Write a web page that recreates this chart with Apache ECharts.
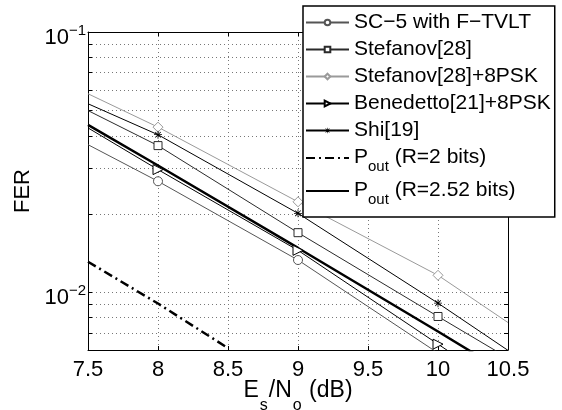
<!DOCTYPE html>
<html>
<head>
<meta charset="utf-8">
<script src="https://cdn.jsdelivr.net/npm/echarts@6/dist/echarts.min.js"></script>
<style>
html,body{margin:0;padding:0;background:#fff;}
#chart{width:562px;height:410px;}
</style>
</head>
<body>
<div id="chart"></div>
<script>
// ---- data ----
var xValues = [7.5, 8, 9, 10, 10.5];
var sc5      = [0.0369, 0.0267, 0.0133, 0.00584, 0.00386];
var stef     = [0.0499, 0.0366, 0.01694, 0.00807, 0.00559];
var stef8psk = [0.0579, 0.0431, 0.02226, 0.01162, 0.00765];
var bene     = [0.0428, 0.0296, 0.01449, 0.00632, 0.00418];
var shi      = [0.0530, 0.0403, 0.0201, 0.00908, 0.00598];
var pout252  = [0.0440, 0.0307, 0.0148, 0.00707, 0.00485];
var pout2X   = [7.5, 8, 8.5];
var pout2    = [0.0131, 0.00905, 0.0061];
var markerX  = [8, 9, 10];

var seriesNames = ['SC\u22125 with F\u2212TVLT', 'Stefanov[28]', 'Stefanov[28]+8PSK',
  'Benedetto[21]+8PSK', 'Shi[19]', 'P_out (R=2 bits)', 'P_out (R=2.52 bits)'];

var xTicks = [7.5, 8, 8.5, 9, 9.5, 10, 10.5];
var yMajorTicks = [0.01, 0.1];
var yMajorLabels = ['{b|10}{sup|\u22122}', '{b|10}{sup|\u22121}'];
var yMinorTicks = [0.007, 0.008, 0.009, 0.02, 0.03, 0.04, 0.05, 0.06, 0.07, 0.08, 0.09];

var X_MIN = 7.5, X_MAX = 10.5, Y_MIN = 0.006, Y_MAX = 0.1;
var FONT = 'Liberation Sans, Arial, Helvetica, sans-serif';

var starPath = 'path://M4.5,0L5.5,0L5.5,10L4.5,10Z M0,4.5L10,4.5L10,5.5L0,5.5Z ' +
  'M1.15,1.85L1.85,1.15L8.85,8.15L8.15,8.85Z M8.15,1.15L8.85,1.85L1.85,8.85L1.15,8.15Z';

function buildData(xs, ys, withMarkers) {
  return xs.map(function (x, i) {
    var show = withMarkers && markerX.indexOf(x) >= 0 && ys[i] >= Y_MIN;
    var item = { value: [x, ys[i]] };
    if (!show) item.symbol = 'none';
    return item;
  });
}

function markerSeries(name, ys, color, symbol, size, rotate, filled) {
  return {
    name: name, type: 'line', data: buildData(xValues, ys, true),
    symbol: symbol, symbolSize: size, symbolRotate: rotate || 0,
    showAllSymbol: true, clip: true, z: 3,
    lineStyle: { color: color, width: 1 },
    itemStyle: filled ? { color: color, borderWidth: 0 }
                      : { color: '#fff', borderColor: color, borderWidth: 1 },
    emphasis: { disabled: true }, animation: false
  };
}

var chart = echarts.init(document.getElementById('chart'), null, { renderer: 'canvas' });

var legendData = seriesNames.map(function (n) {
  if (n.indexOf('P_out') === 0) return { name: n, itemStyle: { opacity: 0 } };
  return { name: n };
});

var option = {
  animation: false,
  backgroundColor: '#fff',
  textStyle: { fontFamily: FONT },
  grid: { left: 88, right: 54, top: 32, bottom: 60, show: false,
          containLabel: false, outerBoundsMode: 'none' },
  xAxis: [{
    type: 'value', min: X_MIN, max: X_MAX, interval: 0.5, position: 'bottom',
    name: '{n|E}{sub|s}{n|/N}{sub|o}{n| (dB)}', nameLocation: 'middle', nameGap: 29,
    nameMoveOverlap: false,
    nameTextStyle: {
      color: '#000', fontFamily: FONT,
      rich: {
        n: { fontSize: 23, lineHeight: 26, verticalAlign: 'top', color: '#000', fontFamily: FONT },
        sub: { fontSize: 16, lineHeight: 16, verticalAlign: 'top', padding: [19, 1, 0, 1], color: '#000', fontFamily: FONT }
      }
    },
    axisLine: { show: true, onZero: false, lineStyle: { color: '#000', width: 1 } },
    axisTick: { show: true, inside: true, length: 4, lineStyle: { color: '#000' } },
    axisLabel: { color: '#000', fontSize: 22, fontFamily: FONT, margin: 9,
      formatter: function (v) { return xTicks.indexOf(v) >= 0 ? String(v) : ''; } },
    splitLine: { show: true, lineStyle: { color: '#777', type: [1, 3], width: 1 } }
  }, {
    type: 'value', min: X_MIN, max: X_MAX, interval: 0.5, position: 'top',
    axisLine: { show: true, onZero: false, lineStyle: { color: '#000', width: 1 } },
    axisTick: { show: true, inside: true, length: 4, lineStyle: { color: '#000' } },
    axisLabel: { show: false }, splitLine: { show: false }
  }],
  yAxis: [{
    type: 'log', logBase: 10, min: Y_MIN, max: Y_MAX, position: 'left',
    name: 'FER', nameLocation: 'middle', nameGap: 50, nameRotate: 90,
    nameTextStyle: { color: '#000', fontSize: 22, fontFamily: FONT },
    axisLine: { show: true, onZero: false, lineStyle: { color: '#000', width: 1 } },
    axisTick: { show: true, inside: true, length: 4, lineStyle: { color: '#000' } },
    axisLabel: {
      color: '#000', fontFamily: FONT, margin: 2,
      formatter: function (v) {
        for (var i = 0; i < yMajorTicks.length; i++) {
          if (Math.abs(v - yMajorTicks[i]) / yMajorTicks[i] < 1e-6) return yMajorLabels[i];
        }
        return '';
      },
      rich: {
        b: { fontSize: 22, lineHeight: 26, verticalAlign: 'top', padding: [8, 0, 0, 0], color: '#000', fontFamily: FONT },
        sup: { fontSize: 15, lineHeight: 16, verticalAlign: 'top', padding: [4, 0, 0, 0], color: '#000', fontFamily: FONT }
      }
    },
    splitLine: { show: true, lineStyle: { color: '#777', type: [1, 3], width: 1 } }
  }, {
    type: 'log', logBase: 10, min: Y_MIN, max: Y_MAX, position: 'right',
    axisLine: { show: true, onZero: false, lineStyle: { color: '#000', width: 1 } },
    axisTick: { show: true, inside: true, length: 4, lineStyle: { color: '#000' } },
    axisLabel: { show: false }, splitLine: { show: false }
  }],
  legend: {
    orient: 'vertical', left: 303, top: 6,
    data: legendData,
    padding: [6, 4, 10, 2],
    itemGap: 6, itemWidth: 43, itemHeight: 7,
    backgroundColor: '#fff', borderColor: '#000', borderWidth: 1.5,
    selectedMode: false,
    textStyle: {
      fontSize: 21, color: '#000', fontFamily: FONT,
      rich: {
        n: { fontSize: 21, lineHeight: 22, verticalAlign: 'top', color: '#000', fontFamily: FONT },
        sub: { fontSize: 15, lineHeight: 16, verticalAlign: 'top', padding: [12, 0, 0, 0], color: '#000', fontFamily: FONT }
      }
    },
    formatter: function (name) {
      if (name.indexOf('P_out') === 0) {
        return '{n|P}{sub|out}{n|' + name.slice(5) + '}';
      }
      return name;
    }
  },
  series: [
    {
      type: 'custom', name: 'minorGrid', coordinateSystem: 'cartesian2d', silent: true, z: 1,
      data: yMinorTicks.map(function (v) { return [X_MIN, v]; }),
      renderItem: function (params, api) {
        var v = api.value(1);
        var p0 = api.coord([X_MIN, v]);
        var p1 = api.coord([X_MAX, v]);
        var y = Math.round(p0[1]) + 0.5;
        return {
          type: 'group',
          children: [
            { type: 'line', shape: { x1: p0[0], y1: y, x2: p1[0], y2: y },
              style: { stroke: '#777', lineWidth: 1, lineDash: [1, 3] } },
            { type: 'line', shape: { x1: p0[0], y1: y, x2: p0[0] + 4, y2: y },
              style: { stroke: '#000', lineWidth: 1 } },
            { type: 'line', shape: { x1: p1[0] - 4, y1: y, x2: p1[0], y2: y },
              style: { stroke: '#000', lineWidth: 1 } }
          ]
        };
      },
      animation: false
    },
    markerSeries(seriesNames[0], sc5, '#555', 'circle', 9),
    markerSeries(seriesNames[1], stef, '#2a2a2a', 'rect', 8),
    markerSeries(seriesNames[2], stef8psk, '#9a9a9a', 'diamond', 10),
    markerSeries(seriesNames[3], bene, '#000', 'triangle', 10, -90),
    markerSeries(seriesNames[4], shi, '#000', starPath, 8, 0, true),
    {
      name: seriesNames[5], type: 'line', data: buildData(pout2X, pout2, false),
      symbol: 'none', clip: true, z: 3,
      lineStyle: { color: '#000', width: 2.5, type: [9, 4, 2, 4] },
      itemStyle: { color: '#000' }, emphasis: { disabled: true }, animation: false
    },
    {
      name: seriesNames[6], type: 'line', data: buildData(xValues, pout252, false),
      symbol: 'none', clip: true, z: 3,
      lineStyle: { color: '#000', width: 2.5 },
      itemStyle: { color: '#000' }, emphasis: { disabled: true }, animation: false
    }
  ]
};
chart.setOption(option);
</script>
</body>
</html>
